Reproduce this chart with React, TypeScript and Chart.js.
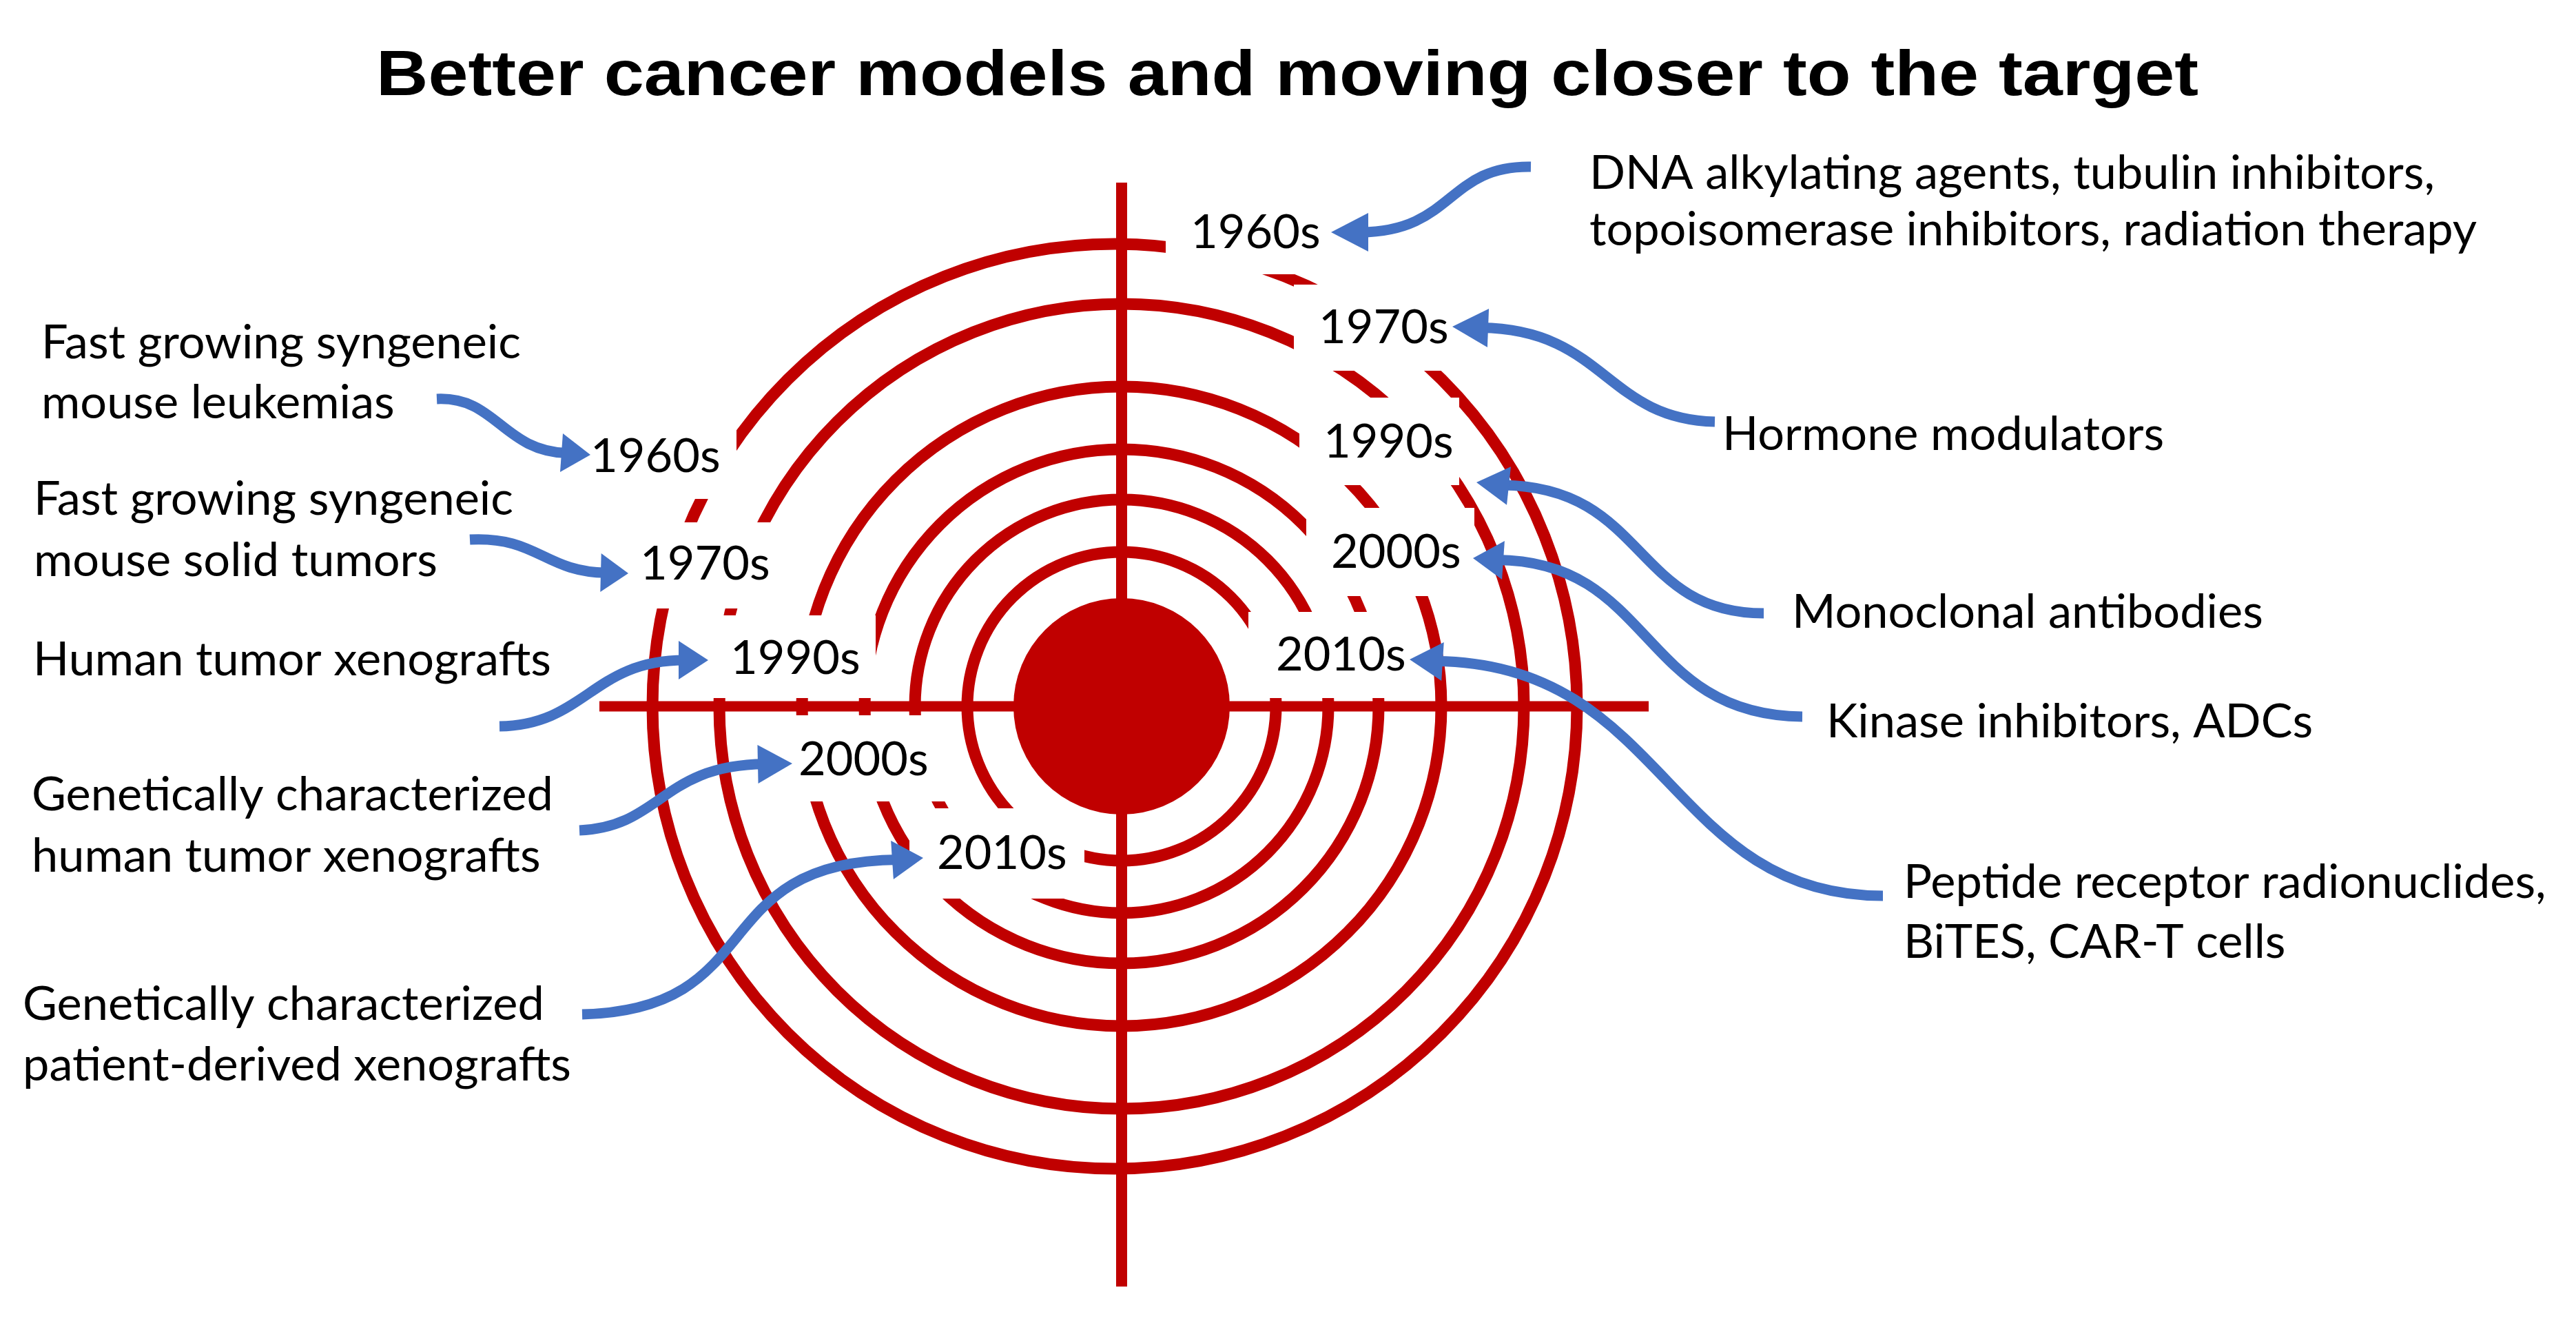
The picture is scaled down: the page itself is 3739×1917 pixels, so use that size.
import React, { useEffect, useRef } from 'react';
import { Chart, registerables } from 'chart.js';

Chart.register(...registerables);

// ---------- data ----------
const TITLE = 'Better cancer models and moving closer to the target';

const MODEL_ERAS = ['1960s', '1970s', '1990s', '2000s', '2010s'];
const MODEL_NAMES = [
  ['Fast growing syngeneic', 'mouse leukemias'],
  ['Fast growing syngeneic', 'mouse solid tumors'],
  ['Human tumor xenografts'],
  ['Genetically characterized', 'human tumor xenografts'],
  ['Genetically characterized', 'patient-derived xenografts'],
];

const THERAPY_ERAS = ['1960s', '1970s', '1990s', '2000s', '2010s'];
const THERAPY_NAMES = [
  ['DNA alkylating agents, tubulin inhibitors,', 'topoisomerase inhibitors, radiation therapy'],
  ['Hormone modulators'],
  ['Monoclonal antibodies'],
  ['Kinase inhibitors, ADCs'],
  ['Peptide receptor radionuclides,', 'BiTES, CAR-T cells'],
];

// target geometry (in reference pixel units, mapped through the chart scales)
const TARGET_CENTER = [1628, 1025];
const RING_RADII = [671, 584, 464, 373, 300, 224];
const RING_SHIFT_X = [-10, 0, 0, 0, 0, 0];
const BULLSEYE_RADIUS = 157;
const CROSS_X_EXTENT = [870, 2393];
const CROSS_Y_EXTENT = [265, 1867];

// ---------- layout ----------
const W = 3739;
const H = 1917;
const RED = '#C00000';
const BLUE = '#4472C4';
const TEXT_FONT = 'Lato';

const TITLE_AT = [546, 138, 2645]; // left, baseline, width

const MODEL_ERA_AT = [[857, 685], [929, 841], [1060, 978], [1159, 1125], [1360, 1261]];
const THERAPY_ERA_AT = [[1728, 360], [1914, 498], [1921, 664], [1932, 824], [1852, 973]];
const ERA_WIDTH = 175;

const MODEL_NAME_AT = [
  [[60, 520, 693], [60, 607, 520]],
  [[49, 747, 696], [49, 836, 597]],
  [[48, 980, 757]],
  [[46, 1176, 759], [46, 1265, 754]],
  [[33, 1480, 759], [33, 1568, 802]],
];
const THERAPY_NAME_AT = [
  [[2307, 274, 1236], [2307, 356, 1312]],
  [[2500, 653, 648]],
  [[2601, 911, 694]],
  [[2651, 1070, 689]],
  [[2763, 1303, 947], [2763, 1390, 529]],
];

// white label backgrounds that break the rings: x0, y0, x1, y1
const MODEL_ERA_BOX = [
  [835, 590, 1069, 724],
  [935, 758, 1140, 883],
  [1005, 893, 1271, 1013],
  [1110, 1038, 1385, 1163],
  [1320, 1173, 1574, 1304],
];
const THERAPY_ERA_BOX = [
  [1692, 285, 1930, 398],
  [1878, 413, 2095, 538],
  [1886, 577, 2118, 704],
  [1896, 737, 2140, 865],
  [1812, 888, 2040, 1013],
];

// curved arrows: start, control 1, control 2, head base, tip
const MODEL_ARROWS = [
  [[634, 579], [720, 575], [730, 655], [815, 657], [857, 660]],
  [[682, 783], [780, 778], [790, 830], [872, 831], [912, 832]],
  [[725, 1054], [850, 1052], [860, 958], [985, 958], [1028, 958]],
  [[841, 1205], [960, 1200], [960, 1110], [1100, 1109], [1150, 1108]],
  [[845, 1472], [1120, 1465], [1020, 1250], [1295, 1248], [1340, 1245]],
];
const THERAPY_ARROWS = [
  [[2222, 242], [2100, 240], [2110, 336], [1986, 337], [1932, 337]],
  [[2489, 612], [2330, 608], [2330, 478], [2160, 476], [2108, 474]],
  [[2560, 890], [2370, 890], [2390, 706], [2190, 705], [2143, 700]],
  [[2616, 1040], [2380, 1038], [2400, 814], [2182, 813], [2138, 810]],
  [[2733, 1300], [2420, 1300], [2420, 962], [2094, 960], [2046, 957]],
];

const RING_DATASET_INDEX = 3;

const decorPlugin = {
  id: 'targetDecor',
  afterDatasetDraw(chart: any, args: any) {
    if (args.index !== RING_DATASET_INDEX) return;
    const { ctx } = chart;
    const xs = chart.scales.x;
    const ys = chart.scales.y;
    ctx.save();
    ctx.fillStyle = '#ffffff';
    [...MODEL_ERA_BOX, ...THERAPY_ERA_BOX].forEach(([x0, y0, x1, y1]) => {
      const a = xs.getPixelForValue(x0);
      const b = xs.getPixelForValue(x1);
      const c = ys.getPixelForValue(y0);
      const d = ys.getPixelForValue(y1);
      ctx.fillRect(Math.min(a, b), Math.min(c, d), Math.abs(b - a), Math.abs(d - c));
    });
    ctx.restore();
  },
  afterDraw(chart: any) {
    const { ctx } = chart;
    const xs = chart.scales.x;
    const ys = chart.scales.y;
    const px = (v: number) => xs.getPixelForValue(v);
    const py = (v: number) => ys.getPixelForValue(v);
    const unit = Math.abs(px(1000) - px(0)) / 1000;

    // arrows
    ctx.save();
    ctx.strokeStyle = BLUE;
    ctx.fillStyle = BLUE;
    ctx.lineWidth = 15 * unit;
    ctx.lineCap = 'butt';
    [...MODEL_ARROWS, ...THERAPY_ARROWS].forEach((pts) => {
      const [p0, p1, p2, p3, tip] = pts.map(([x, y]) => [px(x), py(y)]);
      ctx.beginPath();
      ctx.moveTo(p0[0], p0[1]);
      ctx.bezierCurveTo(p1[0], p1[1], p2[0], p2[1], p3[0] + (tip[0] - p3[0]) * 0.2, p3[1] + (tip[1] - p3[1]) * 0.2);
      ctx.stroke();
      const ang = Math.atan2(tip[1] - p3[1], tip[0] - p3[0]);
      const hw = 28 * unit;
      ctx.beginPath();
      ctx.moveTo(tip[0], tip[1]);
      ctx.lineTo(p3[0] + hw * Math.cos(ang + Math.PI / 2), p3[1] + hw * Math.sin(ang + Math.PI / 2));
      ctx.lineTo(p3[0] - hw * Math.cos(ang + Math.PI / 2), p3[1] - hw * Math.sin(ang + Math.PI / 2));
      ctx.closePath();
      ctx.fill();
    });
    ctx.restore();

    // text
    ctx.save();
    ctx.fillStyle = '#000000';
    ctx.textBaseline = 'alphabetic';
    ctx.textAlign = 'left';
    const fontPx = 67 * unit;
    ctx.font = `${fontPx}px ${TEXT_FONT}`;

    const items: { t: string; x: number; y: number; w: number }[] = [];
    MODEL_ERAS.forEach((t, i) => items.push({ t, x: MODEL_ERA_AT[i][0], y: MODEL_ERA_AT[i][1], w: ERA_WIDTH }));
    THERAPY_ERAS.forEach((t, i) => items.push({ t, x: THERAPY_ERA_AT[i][0], y: THERAPY_ERA_AT[i][1], w: ERA_WIDTH }));
    MODEL_NAMES.forEach((lines, i) =>
      lines.forEach((t, j) => items.push({ t, x: MODEL_NAME_AT[i][j][0], y: MODEL_NAME_AT[i][j][1], w: MODEL_NAME_AT[i][j][2] }))
    );
    THERAPY_NAMES.forEach((lines, i) =>
      lines.forEach((t, j) => items.push({ t, x: THERAPY_NAME_AT[i][j][0], y: THERAPY_NAME_AT[i][j][1], w: THERAPY_NAME_AT[i][j][2] }))
    );
    const ratios = items.map((it) => (it.w * unit) / ctx.measureText(it.t).width).sort((a, b) => a - b);
    const squeeze = ratios[Math.floor(ratios.length / 2)];
    items.forEach((it) => {
      ctx.save();
      ctx.translate(px(it.x), py(it.y));
      ctx.scale(squeeze, 1);
      ctx.fillText(it.t, 0, 0);
      ctx.restore();
    });

    // title
    ctx.font = `bold ${92 * unit}px "Liberation Sans", Arial, sans-serif`;
    const tw = ctx.measureText(TITLE).width;
    const ts = (TITLE_AT[2] * unit) / tw;
    ctx.save();
    ctx.translate(px(TITLE_AT[0]), py(TITLE_AT[1]));
    ctx.scale(ts, 1);
    ctx.fillText(TITLE, 0, 0);
    ctx.restore();
    ctx.restore();
  },
};

export default function App() {
  const canvasRef = useRef<HTMLCanvasElement | null>(null);

  useEffect(() => {
    const canvas = canvasRef.current;
    if (!canvas) return;
    const [cx, cy] = TARGET_CENTER;
    const chart = new Chart(canvas, {
      type: 'scatter',
      data: {
        datasets: [
          {
            type: 'line',
            label: 'horizontal crosshair',
            data: [{ x: CROSS_X_EXTENT[0], y: cy }, { x: CROSS_X_EXTENT[1], y: cy }],
            borderColor: RED,
            borderWidth: 15,
            pointRadius: 0,
            showLine: true,
            clip: false,
            order: 1,
          } as any,
          {
            type: 'line',
            label: 'vertical crosshair',
            data: [{ x: cx, y: CROSS_Y_EXTENT[0] }, { x: cx, y: CROSS_Y_EXTENT[1] }],
            borderColor: RED,
            borderWidth: 16,
            pointRadius: 0,
            showLine: true,
            clip: false,
            order: 1,
          } as any,
          {
            type: 'bubble',
            label: 'bullseye',
            data: [{ x: cx, y: cy, r: BULLSEYE_RADIUS }],
            backgroundColor: RED,
            borderWidth: 0,
            clip: false,
            order: 0,
          } as any,
          {
            type: 'bubble',
            label: 'rings',
            data: RING_RADII.map((r, i) => ({ x: cx + RING_SHIFT_X[i], y: cy, r })),
            backgroundColor: 'rgba(0,0,0,0)',
            borderColor: RED,
            borderWidth: 17,
            clip: false,
            order: 5,
          } as any,
        ],
      },
      options: {
        animation: false,
        responsive: true,
        maintainAspectRatio: false,
        devicePixelRatio: 1,
        events: [],
        layout: { padding: 0, autoPadding: false },
        plugins: { legend: { display: false }, tooltip: { enabled: false }, title: { display: false } },
        scales: {
          x: { type: 'linear', min: 0, max: W, display: false },
          y: { type: 'linear', min: 0, max: H, reverse: true, display: false },
        },
      },
      plugins: [decorPlugin],
    } as any);
    return () => chart.destroy();
  }, []);

  return (
    <div style={{ position: 'fixed', left: 0, top: 0, width: `${W}px`, height: `${H}px`, background: '#fff' }}>
      <canvas ref={canvasRef} style={{ display: 'block' }} />
    </div>
  );
}
